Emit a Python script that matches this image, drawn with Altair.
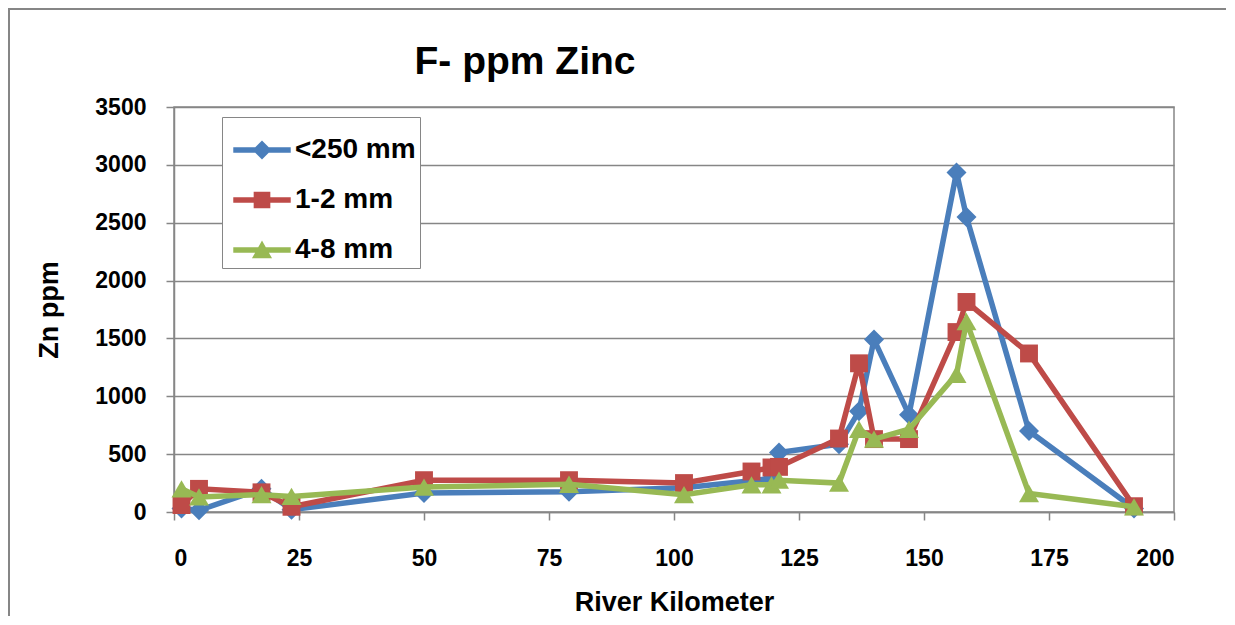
import altair as alt
import pandas as pd

# River kilometre of each sampling site
km = [1.5, 5, 17.5, 23.5, 50, 79, 102, 115.5, 119.5, 121, 133, 137, 140, 147, 156.5, 158.5, 171, 192]
# Zn ppm per size fraction
zn_fine = [30, 15, 200, 20, 165, 175, 210, 270, 290, 515, 585, 870, 1490, 840, 2935, 2550, 700, 30]
zn_12 = [60, 200, 170, 45, 275, 275, 250, 350, 385, 390, 635, 1285, 630, 630, 1555, 1815, 1370, 50]
zn_48 = [200, 130, 150, 135, 215, 240, 150, 235, 235, 275, 250, 715, 630, 715, 1190, 1645, 160, 45]

series = ["<250 mm", "1-2 mm", "4-8 mm"]
colors = ["#4A7EBB", "#BE4B48", "#98B954"]
shapes = ["diamond", "square", "triangle-up"]
sizes = [400, 320, 400]
x_ticks = [0, 25, 50, 75, 100, 125, 150, 175, 200]
y_ticks = [0, 500, 1000, 1500, 2000, 2500, 3000, 3500]
chart_title = ["F- ppm Zinc"]

# legend symbols: a line segment with the marker on it
line_part = "M-1,-0.095L1,-0.095L1,0.095L-1,0.095Z"
legend_paths = [
    line_part + "M0,-0.33L0.33,0L0,0.33L-0.33,0Z",
    line_part + "M-0.29,-0.29L0.29,-0.29L0.29,0.29L-0.29,0.29Z",
    line_part + "M0,-0.33L0.35,0.29L-0.35,0.29Z",
]

rows = []
for name, vals in zip(series, [zn_fine, zn_12, zn_48]):
    for k, v in zip(km, vals):
        rows.append({"km": k, "zn": v, "series": name})
df = pd.DataFrame(rows)

FONT = "Liberation Sans"
GRAY = "#868686"

x_enc = alt.X(
    "km:Q",
    scale=alt.Scale(domain=[0, 200], nice=False),
    axis=alt.Axis(values=x_ticks, title="River Kilometer", grid=False,
                  labelPadding=27, titlePadding=19, format="d"),
)
y_enc = alt.Y(
    "zn:Q",
    scale=alt.Scale(domain=[0, 3500], nice=False),
    axis=alt.Axis(values=y_ticks, title="Zn ppm", grid=True,
                  labelPadding=20, titlePadding=31, format="d"),
)

def color_enc():
    return alt.Color("series:N", scale=alt.Scale(domain=series, range=colors), legend=None)

base = alt.Chart(df)
layers = []

frame = alt.Chart(pd.DataFrame({"f": [0]})).mark_rect(
    fill="transparent", stroke=GRAY, strokeWidth=2
).encode(x=alt.value(-165), x2=alt.value(1090), y=alt.value(-98), y2=alt.value(560))
layers.append(frame)

title_layer = alt.Chart(pd.DataFrame({"t": chart_title})).mark_text(
    font=FONT, fontSize=39, fontWeight="bold", color="black",
    align="center", baseline="alphabetic"
).encode(text="t:N", x=alt.value(351), y=alt.value(-33))
layers.append(title_layer)

for name, shp, sz in zip(series, shapes, sizes):
    sub = base.transform_filter(alt.datum.series == name)
    layers.append(sub.mark_line(strokeWidth=5.5).encode(x=x_enc, y=y_enc, color=color_enc()))
    layers.append(sub.mark_point(filled=True, opacity=1, shape=shp, size=sz).encode(
        x=x_enc, y=y_enc, color=color_enc()))

leg = alt.Legend(
    orient="none", legendX=48, legendY=10,
    strokeColor=GRAY, fillColor="white", padding=4,
    symbolSize=3300, symbolStrokeWidth=0, symbolOpacity=1, symbolOffset=7,
    labelFont=FONT, labelFontSize=28, labelFontWeight="bold", labelColor="black",
    labelOffset=4, rowPadding=7,
)
legend_layer = base.transform_filter("datum.km < 0").mark_point(filled=True, opacity=1).encode(
    x=x_enc, y=y_enc,
    color=alt.Color("series:N", scale=alt.Scale(domain=series, range=colors), legend=leg, title=None),
    shape=alt.Shape("series:N", scale=alt.Scale(domain=series, range=legend_paths), legend=leg, title=None),
)
layers.append(legend_layer)

chart = (
    alt.layer(*layers)
    .resolve_scale(color="independent", shape="independent")
    .properties(
        width=1000, height=405,
        autosize=alt.AutoSizeParams(type="none"),
        padding={"left": 166, "top": 99, "right": 52, "bottom": 104},
    )
    .configure_view(stroke=GRAY, strokeWidth=1.5)
    .configure_axis(
        domainColor=GRAY, domainWidth=1.5, gridColor=GRAY, gridWidth=1.5,
        tickColor=GRAY, tickSize=8, tickWidth=1.5,
        labelFont=FONT, labelFontSize=23, labelFontWeight="bold", labelColor="black",
        titleFont=FONT, titleFontSize=27, titleFontWeight="bold", titleColor="black",
    )
)

chart.save("out.html", embed_options={"renderer": "svg", "actions": False})
